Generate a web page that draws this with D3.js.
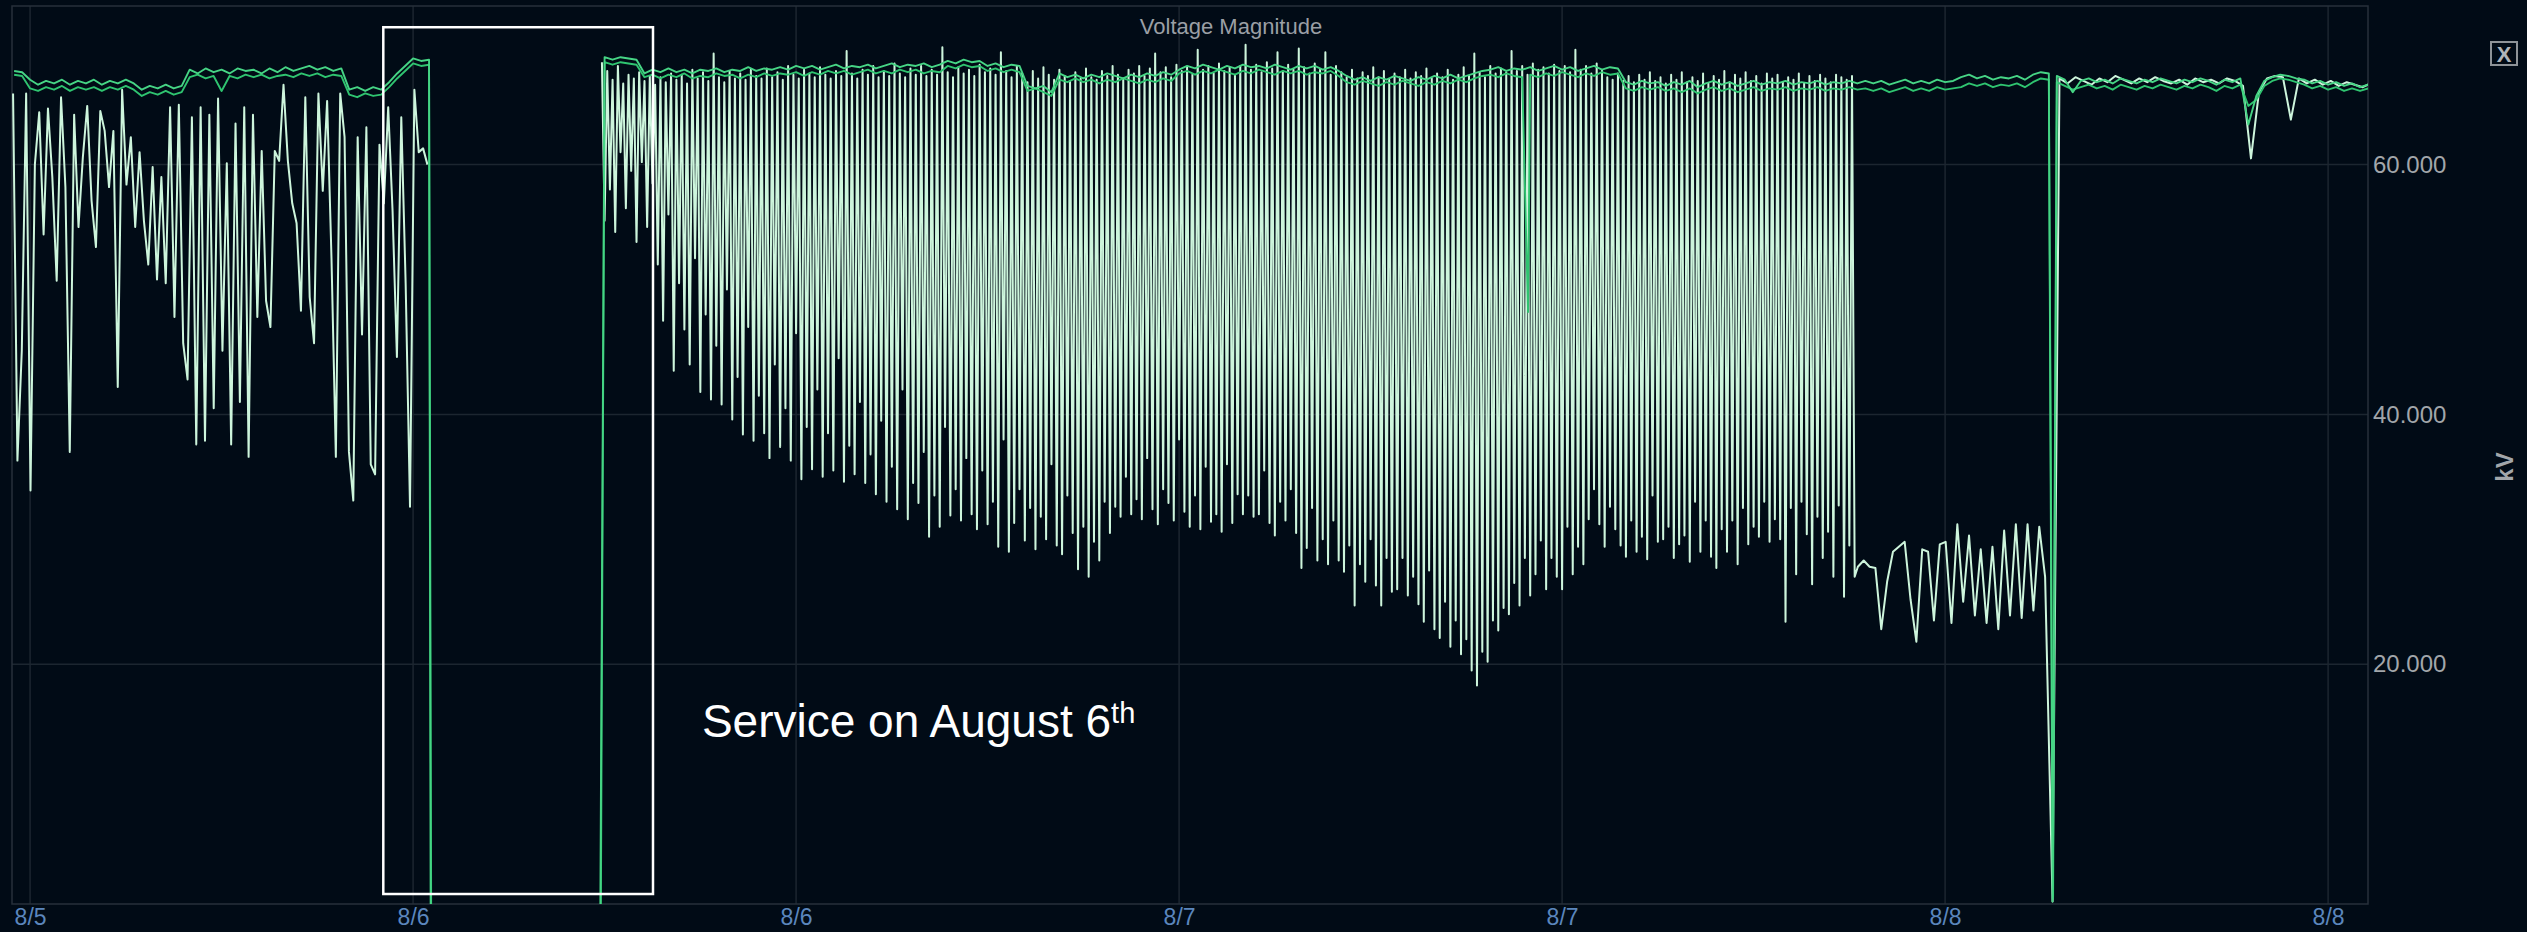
<!DOCTYPE html>
<html>
<head>
<meta charset="utf-8">
<script src="https://cdn.jsdelivr.net/npm/d3@7"></script>
<style>
    html, body { margin: 0; padding: 0; background: #010b16; }
    svg { display: block; font-family: "Liberation Sans", Arial, sans-serif; }
</style>
</head>
<body>
<svg id="graphic" width="2527" height="932"></svg>
<script>
const parseTime = d3.timeParse('%Y-%m-%d %H:%M');

// axis settings
const xDomain = ['2020-08-05 11:26', '2020-08-08 13:15'];
const yDomain = [0.8, 72.7];
const yTicks = [20, 40, 60];
const chartTitle = 'Voltage Magnitude';
const yAxisLabel = 'kV';

// upper green trace, every 15 min (before and after the outage)
const g1Early = [67.5, 67.4,
    66.8, 66.4, 66.7, 66.5, 66.8, 66.4, 66.7, 66.5, 66.8,
    66.4, 66.7, 66.5, 66.8, 66.5,
    66.0, 66.3, 66.1, 66.4, 66.1, 66.3,
    67.6, 67.3, 67.7, 67.4, 67.6, 67.3, 67.7, 67.5, 67.6, 67.3, 67.7, 67.4, 67.8, 67.5, 67.7, 67.9, 67.6, 67.8, 67.5, 67.7,
    66.0, 66.2, 65.9, 66.2, 66.0,
    66.6, 67.3, 67.9, 68.5, 68.3, 68.4];
const g1Late = [68.6, 68.4, 68.6, 68.5, 68.4,
    67.3, 67.6, 67.4, 67.7, 67.4, 67.6, 67.3, 67.6, 67.5, 67.7, 67.4, 67.6, 67.5, 67.8, 67.5, 67.7, 67.6, 67.8,
    67.6, 67.9, 67.7, 67.9, 67.6, 67.8, 68.0, 67.7, 67.9, 67.8, 68.0, 67.7, 67.9, 68.1, 67.8, 68.0, 67.9, 68.1, 67.8, 68.0,
    68.3, 68.1, 68.4, 68.2, 68.3,
    67.9, 68.1, 67.8, 68.0, 67.9,
    66.3, 66.1, 66.3, 65.8,
    67.3, 67.0, 67.2, 66.9, 67.2, 67.0, 67.3, 67.1, 66.9, 67.2, 67.0, 67.3, 67.1, 67.4, 67.2,
    67.6, 67.9, 67.7, 68.0, 67.8, 67.6, 67.9, 67.7, 68.0, 67.8, 67.9, 67.7, 68.0, 67.8, 67.6, 67.9, 67.7, 67.9, 67.6, 67.8, 67.5,
    67.1, 66.8, 67.0, 66.7, 67.0, 66.8, 67.1, 66.9, 66.7, 67.0, 66.8, 67.1, 66.9, 67.2, 66.9, 67.1, 67.3, 67.5,
    67.6, 67.8, 67.5, 67.7, 67.6, 67.8, 67.5, 67.7, 67.9, 67.6, 67.8, 67.5, 67.7, 67.9, 67.6, 67.8, 67.7,
    66.6, 66.4, 66.7, 66.5, 66.6, 66.3, 66.6, 66.4, 66.7, 66.2, 66.5, 66.7, 66.4, 66.6, 66.3,
    66.5, 66.7, 66.4, 66.6, 66.5, 66.7, 66.4, 66.6, 66.5, 66.7, 66.4, 66.6, 66.5, 66.7, 66.5,
    66.7, 66.5, 66.7, 66.4, 66.6, 66.8, 66.5, 66.7, 66.5, 66.8, 66.6, 66.7,
    67.0, 67.2, 66.9, 67.1, 66.8, 67.0, 66.9, 67.1, 66.8, 67.2, 67.4, 67.3,
    67.1, 66.8, 65.8, 66.7, 66.9, 66.6, 66.8, 66.5, 66.9, 66.7, 66.5, 66.8, 66.6, 66.9, 66.7, 66.5, 66.8, 66.6, 66.9, 66.7,
    66.4, 66.8, 66.6, 66.9, 63.2, 65.5, 66.7, 67.0, 67.2, 67.1, 66.9, 66.8, 66.5, 66.7, 66.4, 66.6, 66.3, 66.5, 66.2, 66.4];

// lower green trace, same timing
const g2Early = [67.2, 67.1,
    66.1, 65.9, 66.2, 66.0, 66.3, 65.9, 66.2, 66.0, 66.2,
    65.9, 66.2, 66.0, 66.3, 66.0,
    65.5, 65.8, 65.6, 65.9, 65.6, 65.8,
    67.0, 67.2, 66.9, 67.1, 65.9, 67.1, 66.9, 67.2, 67.0, 67.2, 66.9, 67.1, 67.2, 67.0, 67.3, 67.1, 67.3, 67.0, 67.2, 67.1,
    65.6, 65.4, 65.7, 65.5, 65.6,
    66.2, 66.9, 67.5, 68.1, 67.9, 68.0];
const g2Late = [68.2, 68.0, 68.2, 68.1, 68.0,
    67.0, 67.2, 66.9, 67.2, 67.0, 67.3, 66.9, 67.1, 67.0, 67.3, 67.1, 67.2, 66.9, 67.2, 67.0, 67.3, 67.1, 67.3,
    67.2, 67.4, 67.1, 67.4, 67.2, 67.5, 67.3, 67.5, 67.2, 67.4, 67.6, 67.3, 67.5, 67.3, 67.6, 67.4, 67.6, 67.3, 67.5, 67.4,
    67.9, 67.7, 68.0, 67.8, 67.9,
    67.5, 67.7, 67.4, 67.6, 67.4,
    65.9, 66.1, 65.8, 65.5,
    66.8, 66.6, 66.9, 66.6, 66.8, 66.5, 66.8, 66.6, 66.9, 66.7, 66.5, 66.8, 66.6, 66.9, 66.7,
    67.3, 67.5, 67.2, 67.5, 67.3, 67.6, 67.4, 67.2, 67.5, 67.3, 67.6, 67.4, 67.2, 67.5, 67.3, 67.5, 67.2, 67.4, 67.3, 67.5, 67.1,
    66.6, 66.4, 66.7, 66.5, 66.3, 66.6, 66.4, 66.7, 66.5, 66.3, 66.6, 66.4, 66.7, 66.5, 66.8, 66.6, 66.9, 67.1,
    67.2, 67.0, 67.3, 67.1, 67.0, 67.2, 67.0, 67.3, 67.1, 67.4, 67.2, 67.0, 67.3, 67.1, 67.4, 67.2, 67.3,
    66.1, 65.9, 66.2, 66.0, 66.2, 65.9, 66.1, 65.8, 66.1, 65.7, 66.0, 66.2, 65.9, 66.1, 65.8,
    66.0, 66.2, 65.9, 66.1, 66.0, 66.2, 65.9, 66.1, 66.0, 66.2, 65.9, 66.1, 66.0, 66.2, 66.0,
    66.1, 65.9, 66.1, 65.8, 66.0, 66.2, 65.9, 66.1, 65.9, 66.2, 66.0, 66.1,
    66.2, 66.5, 66.3, 66.5, 66.2, 66.4, 66.3, 66.5, 66.2, 66.6, 66.9, 66.8,
    66.6, 66.3, 66.0, 66.2, 66.4, 66.1, 66.3, 66.0, 66.4, 66.2, 66.0, 66.3, 66.1, 66.4, 66.2, 66.0, 66.3, 66.1, 66.4, 66.2,
    65.9, 66.3, 66.1, 66.4, 64.7, 65.2, 66.3, 66.7, 66.9, 66.8, 66.6, 66.4, 66.1, 66.3, 66.0, 66.2, 65.9, 66.1, 65.9, 66.1];

// pale trace: 8/5 afternoon until the outage, every 8.2 min
const paleEarly = [65.7, 36.3, 45.1, 65.7, 33.9, 60.0, 64.2, 54.4, 64.5, 59.0,
    50.7, 65.4, 58.2, 37.0, 64.0, 55.0, 60.6, 64.7, 57.1, 53.4,
    64.3, 62.7, 58.2, 62.7, 42.2, 66.0, 58.4, 62.2, 55.0, 61.0,
    55.5, 52.0, 59.8, 50.8, 59.0, 50.5, 64.6, 47.8, 64.8, 45.7,
    42.8, 63.8, 37.6, 64.6, 37.9, 64.0, 40.5, 65.3, 45.1, 60.1,
    37.6, 63.3, 41.0, 64.6, 36.6, 64.0, 47.8, 61.1, 49.1, 47.0,
    61.1, 60.3, 66.4, 60.3, 56.9, 55.3, 48.3, 65.4, 49.4, 45.7,
    65.7, 57.9, 65.1, 52.5, 36.6, 65.7, 62.2, 37.0, 33.1, 62.2,
    46.4, 63.0, 36.0, 35.2, 61.6, 56.9, 64.6, 56.3, 44.6, 63.8,
    50.5, 32.6, 66.0, 61.0, 61.3, 60.0];

// pale trace: after service until 8/7 evening, every 5 min
const paleDay = [
    68.2, 55.5, 67.5, 58.0, 66.8, 54.6, 67.9, 61.0, 66.5, 56.5, 67.2, 59.5, 66.9, 53.8, 67.4, 60.2, 66.7, 55.0, 67.1, 58.5,
    66.4, 52.0, 67.0, 47.5, 66.6, 56.0, 67.3, 43.5, 66.8, 50.5, 67.2, 46.8, 66.5, 44.0, 67.6, 52.5, 66.9, 41.8, 67.4, 48.0,
    66.7, 41.2, 68.9, 45.5, 67.0, 40.8, 66.6, 50.0, 67.5, 39.6, 66.9, 43.0, 67.3, 38.4, 66.8, 47.0, 67.6, 37.9, 67.1, 41.5,
    66.9, 38.5, 67.7, 36.5, 67.0, 44.0, 67.4, 37.4, 66.8, 40.5, 67.9, 36.3, 67.2, 46.5, 66.9, 34.8, 67.6, 39.0, 67.3, 35.6,
    67.0, 42.0, 67.8, 35.0, 67.2, 38.5, 66.9, 35.5, 67.5, 44.5, 67.1, 34.6, 69.1, 37.5, 67.3, 35.2, 66.9, 41.0, 67.6, 34.5,
    67.2, 36.8, 67.9, 33.6, 67.0, 39.5, 67.5, 33.0, 67.1, 35.8, 68.1, 32.4, 67.3, 42.0, 67.0, 31.6, 67.7, 34.5, 67.2, 32.9,
    67.9, 37.0, 67.1, 30.2, 67.6, 33.5, 67.2, 31.0, 69.4, 39.0, 67.4, 31.9, 67.0, 34.0, 67.8, 31.5, 67.3, 36.5, 67.6, 32.0,
    67.1, 30.8, 68.0, 35.5, 67.4, 31.2, 67.7, 33.0, 67.2, 29.4, 69.0, 38.0, 67.5, 29.0, 67.0, 31.3, 67.9, 34.0, 67.3, 29.9,
    66.6, 32.5, 67.5, 29.2, 66.9, 31.8, 67.8, 30.0, 67.2, 36.0, 66.8, 29.5, 67.6, 28.8, 67.1, 33.5, 66.7, 30.5, 67.4, 27.6,
    66.9, 31.0, 67.7, 27.0, 67.0, 29.8, 66.8, 28.3, 67.5, 33.0, 67.1, 30.5, 67.9, 32.6, 67.2, 31.8, 66.9, 35.0, 67.6, 32.0,
    67.3, 33.2, 67.9, 31.6, 67.1, 36.5, 67.7, 32.4, 68.9, 31.2, 67.4, 34.0, 67.8, 32.9, 67.0, 31.5, 68.0, 38.0, 67.5, 32.2,
    67.8, 31.0, 67.2, 33.5, 69.2, 30.8, 67.6, 35.8, 67.9, 31.4, 67.3, 32.0, 68.1, 30.6, 67.5, 36.0, 67.8, 31.3, 67.2, 33.6,
    67.9, 32.0, 69.6, 33.5, 67.6, 31.8, 68.0, 32.0, 67.4, 35.5, 68.2, 31.3, 67.7, 30.3, 69.0, 33.0, 67.5, 31.5, 68.0, 34.0,
    67.6, 30.5, 69.3, 27.7, 67.8, 29.3, 67.3, 32.5, 68.1, 28.3, 67.6, 30.0, 69.0, 28.0, 67.2, 31.5, 67.9, 28.3, 67.4, 27.4,
    67.0, 29.5, 67.6, 24.7, 66.9, 28.0, 67.4, 26.6, 67.1, 30.0, 67.8, 26.3, 67.0, 24.7, 67.5, 28.5, 66.8, 25.8, 67.3, 26.0,
    67.0, 28.5, 67.6, 25.5, 66.9, 27.0, 67.4, 24.8, 67.1, 23.4, 67.7, 27.5, 66.9, 22.8, 67.3, 22.1, 67.0, 25.0, 67.6, 21.4,
    66.8, 23.5, 67.2, 20.8, 67.8, 22.0, 67.1, 19.5, 68.9, 18.3, 67.4, 21.0, 67.0, 20.2, 67.9, 23.5, 67.3, 22.7, 67.7, 24.5,
    67.4, 24.0, 69.1, 26.5, 67.5, 24.7, 67.9, 28.5, 67.2, 25.5, 68.1, 27.2, 67.6, 29.9, 67.8, 26.0, 67.3, 28.5, 68.0, 27.0,
    67.5, 26.0, 67.9, 31.0, 67.4, 27.2, 69.2, 29.4, 67.6, 28.0, 67.9, 31.6, 67.3, 34.0, 68.1, 31.2, 67.6, 29.4, 67.0, 32.6,
    66.8, 30.8, 67.3, 29.5, 66.7, 28.6, 67.1, 31.5, 66.6, 29.0, 67.2, 30.2, 66.8, 28.4, 67.4, 33.5, 66.7, 29.8, 67.0, 30.0,
    66.5, 31.0, 67.2, 28.5, 66.8, 29.6, 67.4, 30.3, 66.6, 28.2, 67.0, 33.0, 66.7, 29.0, 67.3, 31.5, 66.5, 28.6, 67.1, 27.7,
    66.8, 30.8, 67.5, 29.0, 66.6, 31.5, 67.2, 28.0, 66.9, 32.5, 67.4, 29.6, 66.7, 31.0, 67.1, 30.2, 66.5, 33.0, 67.3, 29.8,
    66.9, 31.6, 67.2, 30.0, 66.6, 23.4, 67.0, 32.5, 66.8, 27.2, 67.3, 33.0, 66.5, 30.4, 67.1, 26.4, 66.7, 31.8, 67.2, 28.5,
    66.9, 30.6, 66.6, 27.0, 67.2, 32.7, 67.0, 25.4, 66.8, 29.5, 67.1, 27.0];

// pale trace: low period before the 8/8 dip, every 11 min
const paleLow = [27.8, 28.3, 27.8, 27.7, 22.8, 26.6, 29.0, 29.4, 29.8, 25.2, 21.8,
    29.2, 29.0, 23.5, 29.6, 29.8, 23.3, 31.2, 25.0, 30.3, 23.9, 29.2,
    23.3, 29.4, 22.8, 30.7, 23.9, 31.2, 23.7, 31.2, 24.3, 31.0, 27.0];

// pale trace: back at the top after the dip, every 15 min
const paleTail = [66.9, 66.5, 67.0, 66.7, 66.4, 66.9, 66.6, 67.1, 66.8, 66.5,
    66.9, 66.6, 67.0, 66.7, 66.5, 66.8, 66.4, 66.9, 66.6, 66.8,
    66.5, 66.9, 66.7, 66.3, 60.5, 65.8, 66.9, 67.1, 67.0, 63.6,
    66.9, 66.5, 66.8, 66.4, 66.7, 66.3, 66.6, 66.4, 66.2, 66.5];

// single readings: outage drop / return and short dips
const g1Events = [['2020-08-06 00:33', 0.3], ['2020-08-06 05:52', 0.3], ['2020-08-08 03:22', 1.0]];
const g2Events = [['2020-08-06 00:34', 0.3], ['2020-08-06 05:53', 0.3], ['2020-08-07 10:56', 48.2], ['2020-08-08 03:23', 1.3]];
const paleEvents = [['2020-08-08 03:22', 1.0]];

// annotation box and label, in chart units
const annoBox = { from: '2020-08-05 23:04', to: '2020-08-06 07:31', low: 1.6, high: 71.0 };
const annoText = { at: '2020-08-06 09:03', value: 14.2, text: 'Service on August 6', sup: 'th' };

// turn a regular run of readings into points
function run(start, stepMin, values) {
    const t0 = parseTime(start);
    return values.map((v, i) => ({ date: new Date(+t0 + i * stepMin * 60000), value: v }));
}

// merge runs and single readings, break the line where data is missing
function buildSeries(runs, events) {
    const pts = runs.flat().concat(events.map(([t, v]) => ({ date: parseTime(t), value: v })));
    pts.sort((a, b) => a.date - b.date);
    const out = [];
    pts.forEach((p, i) => {
        if (i > 0 && p.date - pts[i - 1].date > 60 * 60000) out.push({ date: p.date, value: null });
        out.push(p);
    });
    return out;
}

const series = [
    { name: 'pale', colour: '#cdf5dc', width: 2,
      data: buildSeries([run('2020-08-05 11:28', 8.2, paleEarly), run('2020-08-06 05:55', 5, paleDay),
                         run('2020-08-07 21:16', 11, paleLow), run('2020-08-08 03:35', 15, paleTail)], paleEvents) },
    { name: 'g2', colour: '#2fc470', width: 1.9,
      data: buildSeries([run('2020-08-05 11:30', 15, g2Early), run('2020-08-06 06:00', 15, g2Late)], g2Events) },
    { name: 'g1', colour: '#46d585', width: 1.9,
      data: buildSeries([run('2020-08-05 11:30', 15, g1Early), run('2020-08-06 06:00', 15, g1Late)], g1Events) }
];

const plot = { left: 12, top: 6, right: 2368, bottom: 904 };
const svg = d3.select('#graphic');

svg.append('rect').attr('width', 2527).attr('height', 932).attr('fill', '#010b16');

const x = d3.scaleTime().domain(xDomain.map(parseTime)).range([plot.left, plot.right]);
const y = d3.scaleLinear().domain(yDomain).range([plot.bottom, plot.top]);
const xTicks = d3.timeHour.every(12).range(parseTime('2020-08-05 12:00'), parseTime('2020-08-08 12:01'));

// grid
svg.append('g')
    .selectAll('line')
    .data(xTicks)
    .join('line')
    .attr('x1', d => x(d)).attr('x2', d => x(d))
    .attr('y1', plot.top).attr('y2', plot.bottom)
    .attr('stroke', '#1c2630').attr('stroke-width', 1.5);

svg.append('g')
    .selectAll('line')
    .data(yTicks)
    .join('line')
    .attr('x1', plot.left).attr('x2', plot.right)
    .attr('y1', d => y(d)).attr('y2', d => y(d))
    .attr('stroke', '#1c2630').attr('stroke-width', 1.5);

svg.append('rect')
    .attr('x', plot.left).attr('y', plot.top)
    .attr('width', plot.right - plot.left).attr('height', plot.bottom - plot.top)
    .attr('fill', 'none').attr('stroke', '#27313b').attr('stroke-width', 1.5);

// x axis labels
const xAxis = svg.append('g')
    .attr('transform', `translate(0,${plot.bottom})`)
    .call(d3.axisBottom(x).tickValues(xTicks).tickFormat(d3.timeFormat('%-m/%-d')).tickSize(0).tickPadding(5));
xAxis.select('.domain').remove();
xAxis.selectAll('text').attr('fill', '#5b86bd').attr('font-size', 23).attr('font-family', null);

// y axis labels on the right
const yAxis = svg.append('g')
    .attr('transform', `translate(${plot.right},0)`)
    .call(d3.axisRight(y).tickValues(yTicks).tickFormat(d3.format('.3f')).tickSize(0).tickPadding(5));
yAxis.select('.domain').remove();
yAxis.selectAll('text').attr('fill', '#a2a6aa').attr('font-size', 24).attr('font-family', null);

svg.append('text')
    .attr('transform', 'translate(2504,467) rotate(-90)')
    .attr('text-anchor', 'middle').attr('dominant-baseline', 'central')
    .attr('fill', '#a2a6aa').attr('font-size', 24).attr('font-weight', 'bold')
    .text(yAxisLabel);

// title
svg.append('text')
    .attr('x', 1231).attr('y', 26)
    .attr('text-anchor', 'middle').attr('dominant-baseline', 'central')
    .attr('fill', '#9a9fa5').attr('font-size', 22)
    .text(chartTitle);

// close box
svg.append('rect')
    .attr('x', 2491).attr('y', 42).attr('width', 26).attr('height', 23)
    .attr('fill', 'none').attr('stroke', '#8e9398').attr('stroke-width', 2);
svg.append('text')
    .attr('x', 2504).attr('y', 54)
    .attr('text-anchor', 'middle').attr('dominant-baseline', 'central')
    .attr('fill', '#b0b4b8').attr('font-size', 22).attr('font-weight', 'bold')
    .text('X');

// lines
svg.append('clipPath').attr('id', 'plot-clip')
    .append('rect')
    .attr('x', plot.left).attr('y', plot.top)
    .attr('width', plot.right - plot.left).attr('height', plot.bottom - plot.top);

const line = d3.line()
    .defined(d => d.value != null)
    .x(d => x(d.date))
    .y(d => y(d.value));

svg.append('g')
    .attr('clip-path', 'url(#plot-clip)')
    .selectAll('path')
    .data(series)
    .join('path')
    .attr('fill', 'none')
    .attr('stroke', d => d.colour)
    .attr('stroke-width', d => d.width)
    .attr('stroke-linejoin', 'round')
    .attr('d', d => line(d.data));

// annotation
svg.append('rect')
    .attr('x', x(parseTime(annoBox.from)))
    .attr('y', y(annoBox.high))
    .attr('width', x(parseTime(annoBox.to)) - x(parseTime(annoBox.from)))
    .attr('height', y(annoBox.low) - y(annoBox.high))
    .attr('fill', 'none').attr('stroke', '#ffffff').attr('stroke-width', 2.5);

const label = svg.append('text')
    .attr('x', x(parseTime(annoText.at)))
    .attr('y', y(annoText.value))
    .attr('fill', '#ffffff').attr('font-size', 46)
    .text(annoText.text);
label.append('tspan')
    .attr('dy', -14).attr('font-size', 29)
    .text(annoText.sup);
</script>
</body>
</html>
